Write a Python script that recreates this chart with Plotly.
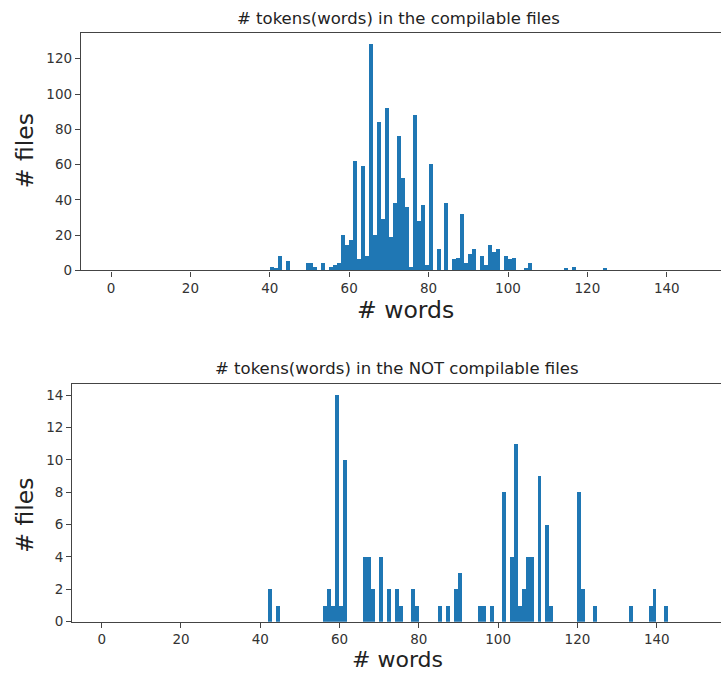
import plotly.graph_objects as go

# ---- data: bin start (words, bin width 1) and file counts ----
comp_bins = [40, 41, 42, 44, 49, 50, 51, 53, 55, 56, 57, 58, 59, 60, 61, 62, 63, 64, 65, 66,
             67, 68, 69, 70, 71, 72, 73, 74, 75, 76, 77, 78, 79, 80, 82, 84, 86, 87, 88, 89,
             90, 91, 93, 94, 95, 96, 97, 99, 100, 101, 104, 105, 114, 116, 124]
comp_counts = [2, 1, 8, 5, 4, 4, 2, 4, 2, 3, 4, 20, 14, 17, 62, 6, 59, 8, 128, 20,
               84, 29, 92, 19, 38, 76, 52, 36, 2, 88, 28, 37, 3, 60, 12, 38, 6, 7, 32, 4,
               9, 12, 8, 3, 14, 10, 12, 8, 6, 7, 1, 4, 1, 2, 1]

notcomp_bins = [42, 44, 56, 57, 58, 59, 60, 61, 66, 67, 68, 70, 72, 74, 75, 78, 79, 85, 87, 89,
                90, 95, 96, 98, 101, 103, 104, 105, 106, 107, 108, 110, 112, 113, 120, 121, 124,
                133, 138, 139, 142]
notcomp_counts = [2, 1, 1, 2, 1, 14, 1, 10, 4, 4, 2, 4, 2, 2, 1, 2, 1, 1, 1, 2,
                  3, 1, 1, 1, 8, 4, 11, 1, 2, 4, 4, 9, 6, 1, 8, 2, 1,
                  1, 1, 2, 1]

x_ticks = [0, 20, 40, 60, 80, 100, 120, 140]
top_y_ticks = [0, 20, 40, 60, 80, 100, 120]
bot_y_ticks = [0, 2, 4, 6, 8, 10, 12, 14]

title_top = "# tokens(words) in the compilable files"
title_bot = "# tokens(words) in the NOT compilable files"
xlabel = "# words"
ylabel = "# files"

W, H = 721, 673
HEFF = 664  # effective vertical extent used for positioning
BAR = "#1f77b4"
FONT = "DejaVu Sans"

fig = go.Figure()
fig.add_trace(go.Bar(x=[b + 0.5 for b in comp_bins], y=comp_counts, width=1,
                     marker=dict(color=BAR, line=dict(width=0)), xaxis="x", yaxis="y",
                     showlegend=False))
fig.add_trace(go.Bar(x=[b + 0.5 for b in notcomp_bins], y=notcomp_counts, width=1,
                     marker=dict(color=BAR, line=dict(width=0)), xaxis="x2", yaxis="y2",
                     showlegend=False))

axis_common = dict(showgrid=False, zeroline=False, showline=True, linecolor="#444",
                   linewidth=1.3, ticks="outside", ticklen=5, tickwidth=1, tickcolor="#444",
                   tickfont=dict(family=FONT, size=13.5, color="#333"))

def px_x(p):
    return p / W

def px_y(p):
    return 1 - p / HEFF

fig.update_layout(
    width=W, height=H, margin=dict(l=0, r=0, t=0, b=0),
    paper_bgcolor="white", plot_bgcolor="white", bargap=0,
    xaxis=dict(domain=[px_x(81), 1], range=[-7.56, 153.65], anchor="y",
               tickvals=x_ticks, mirror=True, **axis_common),
    yaxis=dict(domain=[px_y(270), px_y(33.3)], range=[0, 134.4], anchor="x",
               tickvals=top_y_ticks, mirror=False, **axis_common),
    xaxis2=dict(domain=[px_x(72.3), 1], range=[-7.41, 156.2], anchor="y2",
                tickvals=x_ticks, mirror=True, **axis_common),
    yaxis2=dict(domain=[px_y(620.7), px_y(383.3)], range=[0, 14.7], anchor="x2",
                tickvals=bot_y_ticks, mirror=False, **axis_common),
)

def ann(text, x, y, size, angle=0):
    fig.add_annotation(text=text, x=px_x(x), y=px_y(y), xref="paper", yref="paper",
                       showarrow=False, xanchor="center", yanchor="middle",
                       textangle=angle, font=dict(family=FONT, size=size, color="#222"))

ann(title_top, 398, 18, 16.5)
ann(xlabel, 405, 310, 23.5)
ann(ylabel, 25, 151, 23.5, -90)
ann(title_bot, 397, 368, 16.5)
ann(xlabel, 397, 658.5, 22)
ann(ylabel, 25, 515, 23.5, -90)

fig.write_html("out.html", config={"displayModeBar": False},
               post_script="document.body.style.margin='0';document.body.style.overflow='hidden';")
